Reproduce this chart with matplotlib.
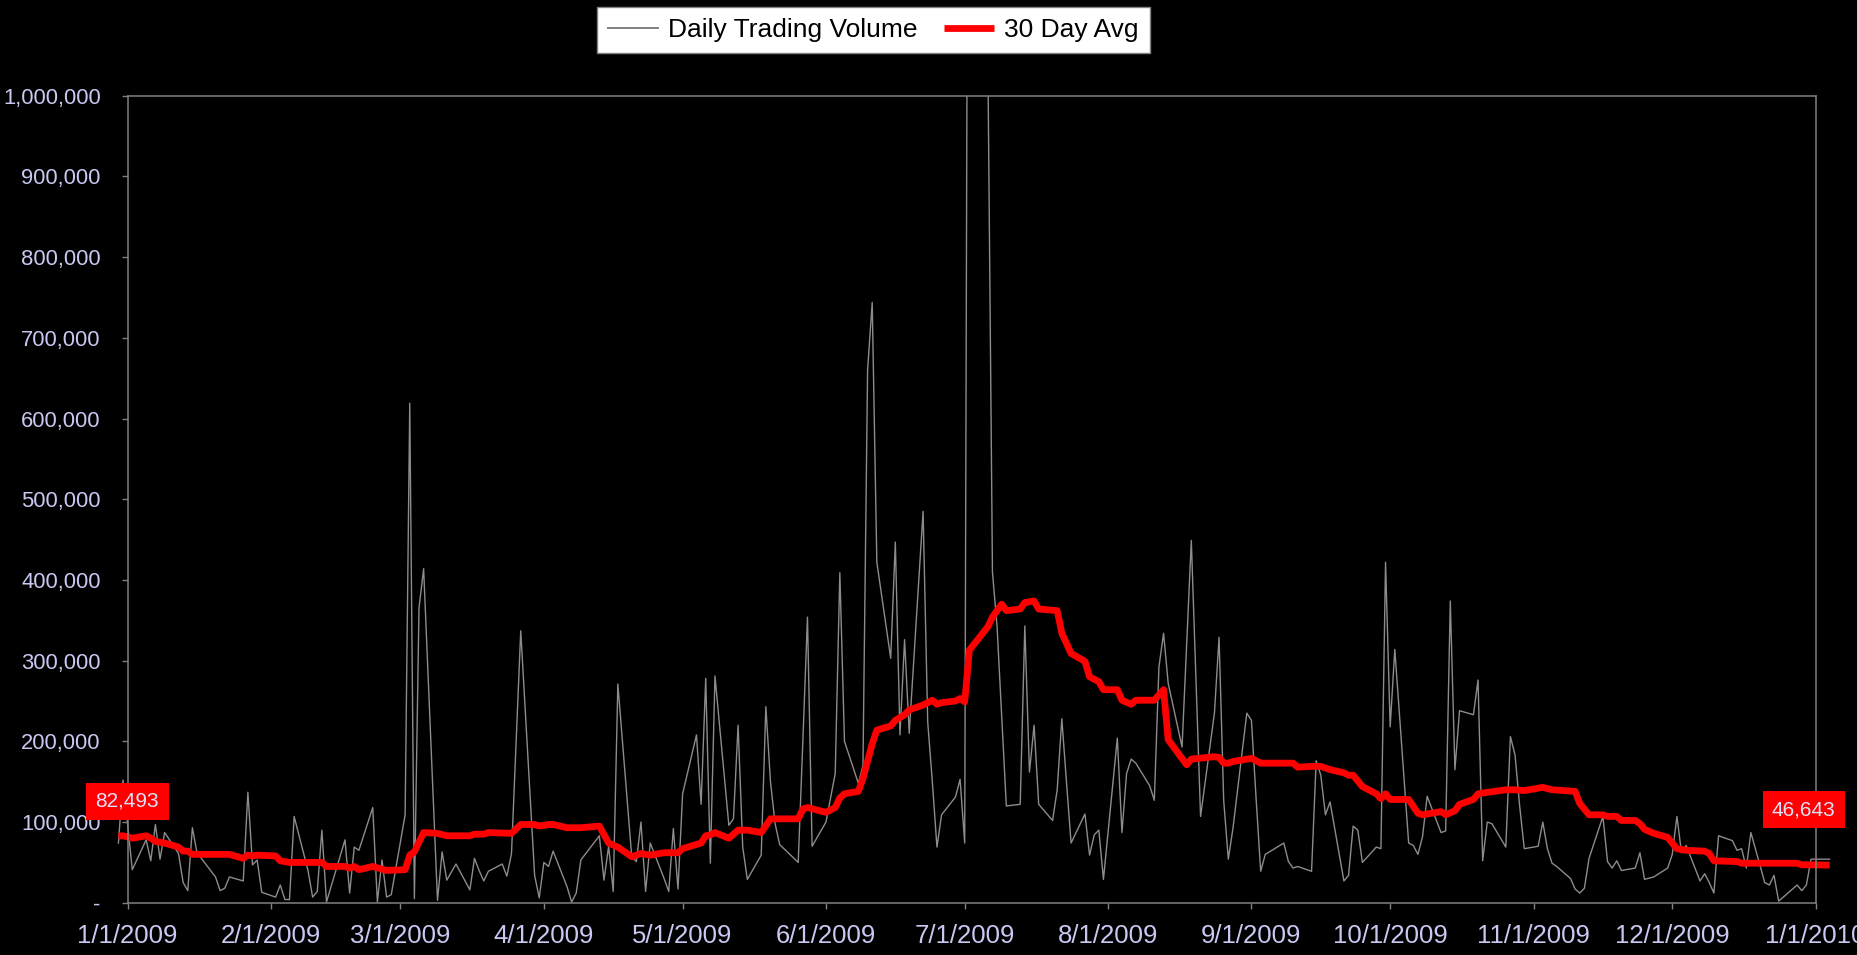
#!/usr/bin/python

### Daily trading volume with 30 day average, 2009
# Writes out.png

import numpy as np
import pandas as pd
import matplotlib
matplotlib.use('Agg')
import matplotlib.pyplot as plt
from matplotlib.patches import Rectangle

plt.rcParams['font.family'] = ['Liberation Sans', 'DejaVu Sans']

## Data (volumes in thousands of shares)

holidays = ['2009-01-01', '2009-01-19', '2009-02-16', '2009-04-10', '2009-05-25',
            '2009-07-03', '2009-09-07', '2009-11-26', '2009-12-25', '2010-01-01']

vol_dec08 = [74, 152]
vol_jan = [41, 78, 52, 97, 54, 87, 61, 25, 15, 93, 62, 32, 15, 18, 32, 27, 137, 47, 53, 13]
vol_feb = [7, 22, 4, 4, 107, 40, 7, 14, 90, 1, 78, 12, 69, 65, 118, 1, 53, 7, 10]
vol_mar = [109, 619, 5, 365, 414, 3, 63, 28, 38, 48, 16, 55, 40, 27, 39, 48, 33, 61, 200, 337, 34, 6]
vol_apr = [50, 45, 64, 20, 1, 12, 53, 83, 28, 70, 14, 271, 57, 51, 100, 14, 74, 30, 14, 92, 17]
vol_may = [135, 208, 122, 278, 49, 281, 96, 104, 220, 69, 29, 59, 243, 150, 98, 72, 50, 200, 354, 70]
vol_jun = [100, 130, 160, 409, 200, 148, 170, 660, 744, 422, 303, 447, 208, 326, 210, 485, 224, 150,
           69, 109, 131, 153]
vol_jul = [74, 2000, 1050, 410, 342, 230, 120, 122, 343, 162, 220, 122, 102, 140, 228, 150, 74, 110,
           59, 84, 90, 29]
vol_aug = [204, 87, 160, 178, 173, 145, 127, 292, 334, 272, 193, 320, 449, 280, 107, 235, 329, 127,
           54, 92, 235]
vol_sep = [226, 130, 39, 60, 74, 51, 43, 45, 39, 176, 158, 109, 125, 27, 34, 95, 90, 50, 69, 67, 422]
vol_oct = [218, 314, 74, 71, 60, 82, 132, 87, 89, 374, 165, 238, 233, 276, 52, 100, 98, 69, 206, 183,
           120, 67]
vol_nov = [70, 100, 67, 49, 45, 30, 17, 12, 18, 55, 107, 51, 43, 52, 40, 43, 62, 29, 32, 43]
vol_dec = [60, 107, 62, 71, 27, 36, 25, 12, 83, 77, 65, 67, 43, 87, 25, 22, 34, 2, 22, 15, 22, 54]
vol_jan10 = [54]

avg_dates = ['2008-12-30', '2008-12-31', '2009-01-02', '2009-01-05', '2009-01-06', '2009-01-07',
             '2009-01-09', '2009-01-12', '2009-01-13', '2009-01-14', '2009-01-15', '2009-01-23',
             '2009-01-26', '2009-01-27', '2009-01-28', '2009-01-29', '2009-02-02', '2009-02-03',
             '2009-02-05', '2009-02-12', '2009-02-13', '2009-02-17', '2009-02-18', '2009-02-19',
             '2009-02-20', '2009-02-23', '2009-02-26', '2009-03-02', '2009-03-03', '2009-03-04',
             '2009-03-06', '2009-03-09', '2009-03-11', '2009-03-16', '2009-03-17', '2009-03-19',
             '2009-03-20', '2009-03-25', '2009-03-27', '2009-03-30', '2009-03-31', '2009-04-02',
             '2009-04-03', '2009-04-06', '2009-04-09', '2009-04-13', '2009-04-15', '2009-04-17',
             '2009-04-20', '2009-04-22', '2009-04-23', '2009-04-24', '2009-04-27', '2009-04-30',
             '2009-05-01', '2009-05-05', '2009-05-06', '2009-05-07', '2009-05-08', '2009-05-11',
             '2009-05-13', '2009-05-15', '2009-05-18', '2009-05-20', '2009-05-26', '2009-05-27',
             '2009-05-28', '2009-06-01', '2009-06-03', '2009-06-04', '2009-06-05', '2009-06-08',
             '2009-06-09', '2009-06-11', '2009-06-12', '2009-06-15', '2009-06-16', '2009-06-18',
             '2009-06-19', '2009-06-22', '2009-06-24', '2009-06-25', '2009-06-26', '2009-06-29',
             '2009-06-30', '2009-07-01', '2009-07-02', '2009-07-06', '2009-07-07', '2009-07-09',
             '2009-07-10', '2009-07-13', '2009-07-14', '2009-07-16', '2009-07-17', '2009-07-21',
             '2009-07-22', '2009-07-24', '2009-07-27', '2009-07-28', '2009-07-30', '2009-07-31',
             '2009-08-03', '2009-08-04', '2009-08-06', '2009-08-07', '2009-08-11', '2009-08-13',
             '2009-08-14', '2009-08-18', '2009-08-19', '2009-08-24', '2009-08-25', '2009-08-26',
             '2009-08-27', '2009-08-28', '2009-09-01', '2009-09-03', '2009-09-10', '2009-09-11',
             '2009-09-14', '2009-09-16', '2009-09-18', '2009-09-21', '2009-09-22', '2009-09-23',
             '2009-09-25', '2009-09-28', '2009-09-29', '2009-09-30', '2009-10-01', '2009-10-05',
             '2009-10-07', '2009-10-08', '2009-10-12', '2009-10-13', '2009-10-15', '2009-10-16',
             '2009-10-19', '2009-10-20', '2009-10-21', '2009-10-26', '2009-10-28', '2009-10-30',
             '2009-11-03', '2009-11-05', '2009-11-10', '2009-11-11', '2009-11-13', '2009-11-16',
             '2009-11-17', '2009-11-19', '2009-11-20', '2009-11-23', '2009-11-24', '2009-11-25',
             '2009-11-27', '2009-11-30', '2009-12-01', '2009-12-02', '2009-12-04', '2009-12-08',
             '2009-12-09', '2009-12-10', '2009-12-15', '2009-12-16', '2009-12-28', '2009-12-29',
             '2009-12-31', '2010-01-04']
avg_values = [82.493, 83, 80, 83, 80, 76,
              74, 69, 64, 64, 60, 60,
              55, 59, 58, 59, 58, 52,
              50, 50, 45, 45, 43, 45,
              41, 45, 40, 41, 59, 63,
              87, 86, 83, 83, 85, 85,
              87, 86, 97, 97, 95, 97,
              97, 93, 93, 95, 74, 69,
              57, 61, 60, 59, 62, 62,
              67, 74, 83, 84, 87, 80,
              90, 90, 87, 104, 104, 116,
              118, 112, 118, 130, 135, 138,
              154, 197, 214, 219, 226, 233,
              239, 245, 251, 246, 248, 250,
              253, 249, 313, 342, 354, 370,
              362, 364, 372, 374, 364, 362,
              334, 309, 299, 280, 274, 264,
              264, 251, 246, 251, 251, 264,
              202, 171, 178, 181, 180, 173,
              173, 175, 179, 173, 173, 168,
              169, 169, 165, 161, 158, 158,
              144, 135, 129, 135, 128, 128,
              111, 109, 113, 109, 114, 122,
              128, 135, 136, 140, 140, 139,
              143, 140, 138, 123, 109, 109,
              107, 107, 102, 102, 98, 91,
              86, 81, 74, 67, 65, 64,
              61, 52, 51, 49, 49, 47,
              47, 46.643]

month_ticks = ['2009-01-01', '2009-02-01', '2009-03-01', '2009-04-01', '2009-05-01', '2009-06-01',
               '2009-07-01', '2009-08-01', '2009-09-01', '2009-10-01', '2009-11-01', '2009-12-01',
               '2010-01-01']
month_labels = ['1/1/2009', '2/1/2009', '3/1/2009', '4/1/2009', '5/1/2009', '6/1/2009',
                '7/1/2009', '8/1/2009', '9/1/2009', '10/1/2009', '11/1/2009', '12/1/2009',
                '1/1/2010']
y_ticks = [0, 100000, 200000, 300000, 400000, 500000, 600000, 700000, 800000, 900000, 1000000]
y_labels = ['-', '100,000', '200,000', '300,000', '400,000', '500,000', '600,000', '700,000',
            '800,000', '900,000', '1,000,000']

trade_days = pd.bdate_range('2008-12-30', '2010-01-04', freq='C', holidays=holidays)
volume = np.array(vol_dec08 + vol_jan + vol_feb + vol_mar + vol_apr + vol_may + vol_jun + vol_jul
                  + vol_aug + vol_sep + vol_oct + vol_nov + vol_dec + vol_jan10) * 1000.0
avg = np.array(avg_values) * 1000.0
avg_days = pd.to_datetime(avg_dates)

## Plot

lavender = '#C8C8F2'
border = '#808080'

fig = plt.figure(figsize=(18.58, 9.55), dpi=100, facecolor='black')
ax = fig.add_axes([0.0687, 0.0547, 0.9085, 0.845], facecolor='black')

# lines run a little past the left/right border but are cut at the top
clip = Rectangle((-0.05, -0.05), 1.1, 1.05, transform=ax.transAxes)

vol_line, = ax.plot(trade_days, volume, color='#8C8C8C', lw=1.0, label='Daily Trading Volume')
avg_line, = ax.plot(avg_days, avg, color='#FF0000', lw=4.9, solid_joinstyle='round',
                    solid_capstyle='butt', label='30 Day Avg')
vol_line.set_clip_path(clip)
avg_line.set_clip_path(clip)

ax.set_xlim(pd.Timestamp('2009-01-01'), pd.Timestamp('2010-01-01'))
ax.set_ylim(0, 1000000)
ax.set_xticks(pd.to_datetime(month_ticks))
ax.set_xticklabels(month_labels)
ax.set_yticks(y_ticks)
ax.set_yticklabels(y_labels)

ax.tick_params('x', direction='out', length=4.3, width=1, color=border, labelcolor=lavender,
               labelsize=18.5, pad=11)
ax.tick_params('y', direction='out', length=4.3, width=1, color=border, labelcolor=lavender,
               labelsize=15.8, pad=15)
for s in ax.spines.values():
    s.set_color(border)
    s.set_linewidth(1.1)

# data labels on first and last average point
label_box = dict(boxstyle='square,pad=0.45', fc='#FF0000', ec='none')
ax.annotate(f'{avg[0]:,.0f}', xy=(avg_days[0], avg[0]), xytext=(6.5, 25), textcoords='offset points',
            ha='center', va='center', fontsize=15, color='#E0E0F8', bbox=label_box,
            annotation_clip=False)
ax.annotate(f'{avg[-1]:,.0f}', xy=(avg_days[-1], avg[-1]), xytext=(-18.5, 40),
            textcoords='offset points', ha='center', va='center', fontsize=15, color='#E0E0F8',
            bbox=label_box, annotation_clip=False)

leg = fig.legend(handles=[vol_line, avg_line], loc='center', bbox_to_anchor=(0.4701, 0.9686),
                 ncol=2, fontsize=19, frameon=True, fancybox=False, facecolor='white',
                 framealpha=1.0, edgecolor=border, handlelength=1.9, handletextpad=0.38,
                 columnspacing=1.0, borderpad=0.42, borderaxespad=0)
leg.get_frame().set_linewidth(1.0)
leg.legend_handles[0].set_color('#808080')
leg.legend_handles[0].set_linewidth(1.4)
for t in leg.get_texts():
    t.set_color('black')

fig.savefig('out.png', dpi=100, facecolor='black')
